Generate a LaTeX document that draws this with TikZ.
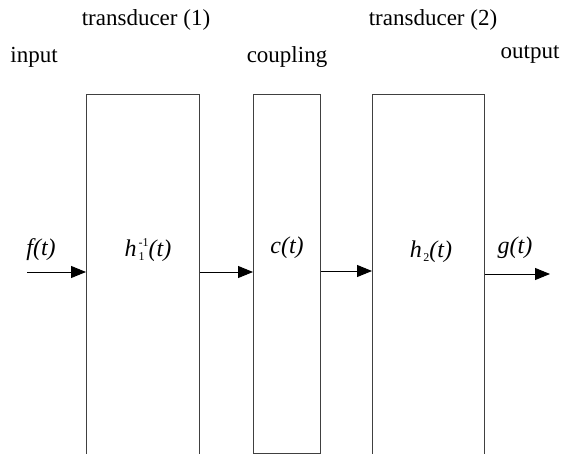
\documentclass[tikz,border=0pt]{standalone}
\usepackage{fontspec}
\setmainfont{Liberation Serif}
\usetikzlibrary{arrows.meta}
\newcommand{\smallscr}{\fontsize{12}{12}\selectfont\upshape}
\tikzset{
  blk/.style={draw=black!75, line width=1.3pt, minimum width=#1, inner sep=0pt},
  lbl/.style={font=\fontsize{23}{26}\selectfont, inner sep=0pt},
  sig/.style={font=\fontsize{24}{28}\selectfont\itshape, inner sep=0pt},
  arr/.style={draw=black, line width=1pt, -{Triangle[length=15pt,width=12pt]}}
}
\begin{document}
\begin{tikzpicture}[x=1pt,y=-1pt]
\useasboundingbox (0,0) rectangle (577,454);
% boxes
\node[blk=113pt, minimum height=364pt, anchor=north west] (b1) at (86,94) {};
\node[blk=67pt, minimum height=359pt, anchor=north west] (cp) at (253,94) {};
\node[blk=112pt, minimum height=364pt, anchor=north west] (b3) at (372,94) {};
% header labels
\node[lbl] (t1) at (146,20) {transducer (1)};
\node[lbl] (inp) at (34,57) {input};
\node[lbl] (cpl) at (287,57) {coupling};
\node[lbl] (t2) at (433,20) {transducer (2)};
\node[lbl] (outp) at (530,54) {output};
% signal labels
\node[sig] (f) at (41,250) {f(t)};
\node[sig] (h1) at (148,250) {h\kern2pt\rlap{\raisebox{-4pt}{\smallscr 1}}\raisebox{10pt}{\smallscr -1}(t)};
\node[sig] (c) at (287,248) {c(t)};
\node[sig] (h2) at (431,252) {h\kern1.5pt\raisebox{-4pt}{\smallscr 2}(t)};
\node[sig] (g) at (515,248) {g(t)};
% arrow levels
\coordinate (a1) at (27,272);
\coordinate (a2) at (0,272);
\coordinate (a3) at (0,271);
\coordinate (a4) at (550,274);
\draw[arr] (a1) -- (a1 -| b1.west);
\draw[arr] (a2 -| b1.east) -- (a2 -| cp.west);
\draw[arr] (a3 -| cp.east) -- (a3 -| b3.west);
\draw[arr] (a4 -| b3.east) -- (a4);
\end{tikzpicture}
\end{document}
